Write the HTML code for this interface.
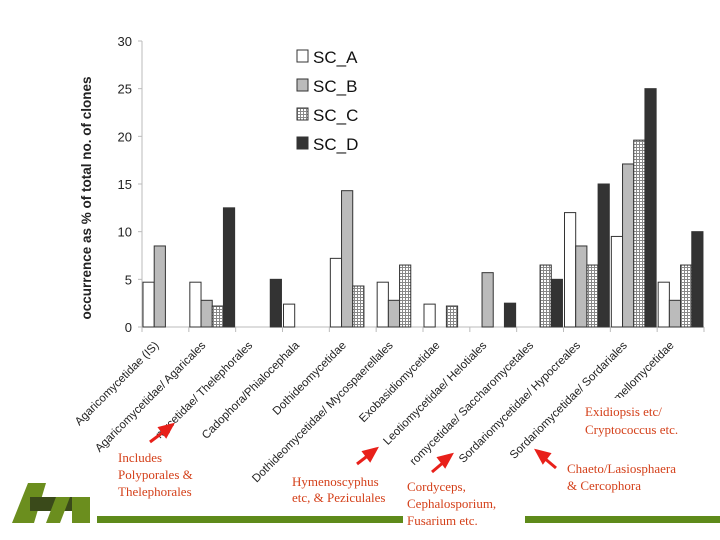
<!DOCTYPE html>
<html><head><meta charset="utf-8"><style>
body{margin:0;background:#fff;}
svg{display:block;font-family:"Liberation Sans",sans-serif;}
.ann{font-family:"Liberation Serif",serif;font-size:13px;fill:#d4401a;}
</style></head><body>
<svg id="chart" width="720" height="540" viewBox="0 0 720 540" xmlns="http://www.w3.org/2000/svg">
<defs>
<pattern id="chk" width="3" height="3" patternUnits="userSpaceOnUse">
<rect width="3" height="3" fill="#fff"/><path d="M0 0.5H3M0.5 0V3" stroke="#888" stroke-width="1"/>
</pattern>
</defs>
<g id="axes"></g>
<g id="bars"></g>
<g id="labels"></g>
<g font-size="17" fill="#111">
<rect x="297" y="50" width="11" height="12" fill="#fff" stroke="#333"/><text x="313" y="63">SC_A</text>
<rect x="297" y="79" width="11" height="12" fill="#bbb" stroke="#333"/><text x="313" y="92">SC_B</text>
<rect x="297" y="108" width="11" height="12" fill="url(#chk)" stroke="#333"/><text x="313" y="121">SC_C</text>
<rect x="297" y="137" width="11" height="12" fill="#333" stroke="#333"/><text x="313" y="150">SC_D</text>
</g>
<text transform="translate(91,198) rotate(-90)" text-anchor="middle" font-size="13.5" font-weight="bold" fill="#222">occurrence as % of total no. of clones</text>
<g>
<text class="ann" x="118" y="462">Includes</text><text class="ann" x="118" y="479">Polyporales &amp;</text><text class="ann" x="118" y="496">Thelephorales</text>
<text class="ann" x="292" y="486">Hymenoscyphus</text><text class="ann" x="292" y="502">etc, &amp; Peziculales</text>
<rect x="404" y="474" width="110" height="56" fill="#fff"/>
<text class="ann" x="407" y="491">Cordyceps,</text><text class="ann" x="407" y="508">Cephalosporium,</text><text class="ann" x="407" y="525">Fusarium etc.</text>
<rect x="580" y="398" width="120" height="40" fill="#fff"/>
<text class="ann" x="585" y="416">Exidiopsis etc/</text><text class="ann" x="585" y="434">Cryptococcus etc.</text>
<text class="ann" x="567" y="473">Chaeto/Lasiosphaera</text><text class="ann" x="567" y="490">&amp; Cercophora</text>
<g stroke="#e8201a" stroke-width="3" fill="#e8201a">
<line x1="150" y1="442" x2="166" y2="430"/><polygon points="172,425 160,428 166,436"/>
<line x1="357" y1="464" x2="370" y2="454"/><polygon points="376,449 364,452 370,460"/>
<line x1="432" y1="472" x2="445" y2="461"/><polygon points="451,455 439,458 445,466"/>
<line x1="556" y1="468" x2="543" y2="457"/><polygon points="537,451 549,454 543,462"/>
</g>
</g>
<g>
<polygon points="28,483 46,483 34,523 12,523" fill="#6b8e1e"/>
<rect x="30" y="497" width="60" height="14" fill="#3a4a1a"/>
<polygon points="56,497 70,497 60,523 46,523" fill="#6b8e1e"/>
<rect x="72" y="497" width="18" height="26" fill="#6b8e1e"/>
</g>
<rect x="97" y="516" width="306" height="7" fill="#5e8a1a"/>
<rect x="525" y="516" width="195" height="7" fill="#5e8a1a"/>
</svg>
<script>
const categories=["Agaricomycetidae (IS)","Agaricomycetidae/ Agaricales","mycetidae/ Thelephorales","Cadophora/Phialocephala","Dothideomycetidae","Dothideomycetidae/ Mycospaerellales","Exobasidiomycetidae","Leotiomycetidae/ Helotiales","romycetidae/ Saccharomycetales","Sordariomycetidae/ Hypocreales","Sordariomycetidae/ Sordariales","mellomycetidae"];
const scA=[4.7,4.7,0,2.4,7.2,4.7,2.4,0,0,12,9.5,4.7];
const scB=[8.5,2.8,0,0,14.3,2.8,0,5.7,0,8.5,17.1,2.8];
const scC=[0,2.2,0,0,4.3,6.5,2.2,0,6.5,6.5,19.6,6.5];
const scD=[0,12.5,5,0,0,0,0,2.5,5,15,25,10];
const yTicks=[0,5,10,15,20,25,30];
const NS="http://www.w3.org/2000/svg";
const x0=142,x1=704,y0=327,y1=41,yMax=30;
const cw=(x1-x0)/categories.length;
const yS=v=>y0-(v/yMax)*(y0-y1);
const xC=i=>x0+i*cw;
function mk(t,a,p){const e=document.createElementNS(NS,t);for(const k in a)e.setAttribute(k,a[k]);p.appendChild(e);return e;}
const ax=document.getElementById('axes');
const yl=mk('line',{x1:x0,y1:y1,x2:x0,y2:y0,stroke:'#bbb'},ax);


const xl=mk('line',{x1:x0,y1:y0,x2:x1,y2:y0,stroke:'#bbb'},ax);


yTicks.forEach(v=>{
 mk('line',{x1:x0-4,y1:yS(v),x2:x0,y2:yS(v),stroke:'#bbb'},ax);
 const t=mk('text',{x:x0-10,y:yS(v)+5,'text-anchor':'end','font-size':'13',fill:'#222'},ax);
 t.textContent=v;
 
 
});
for(let i=0;i<=categories.length;i++)mk('line',{x1:xC(i),y1:y0,x2:xC(i),y2:y0+5,stroke:'#bbb'},ax);
const series=[[scA,'#fff'],[scB,'#bbb'],[scC,'url(#chk)'],[scD,'#333']];
const bw=11.2;
const bg=document.getElementById('bars');
series.forEach((s,si)=>{
 s[0].forEach((v,i)=>{
  if(v<=0)return;
  const r=mk('rect',{x:xC(i)+1+si*bw,y:yS(v),width:bw,height:y0-yS(v),fill:s[1],stroke:'#333','stroke-width':'1'},bg);
  
  
 });
});
const lg=document.getElementById('labels');
categories.forEach((c,i)=>{
 const cx=xC(i)+cw/2-6;
 const cy=y0+19;
 const t=mk('text',{x:cx,y:cy,'text-anchor':'end','font-size':'11.5',fill:'#222',transform:`rotate(-45 ${cx} ${cy})`},lg);
 t.textContent=c;
 
 
});
</script>
</body></html>
